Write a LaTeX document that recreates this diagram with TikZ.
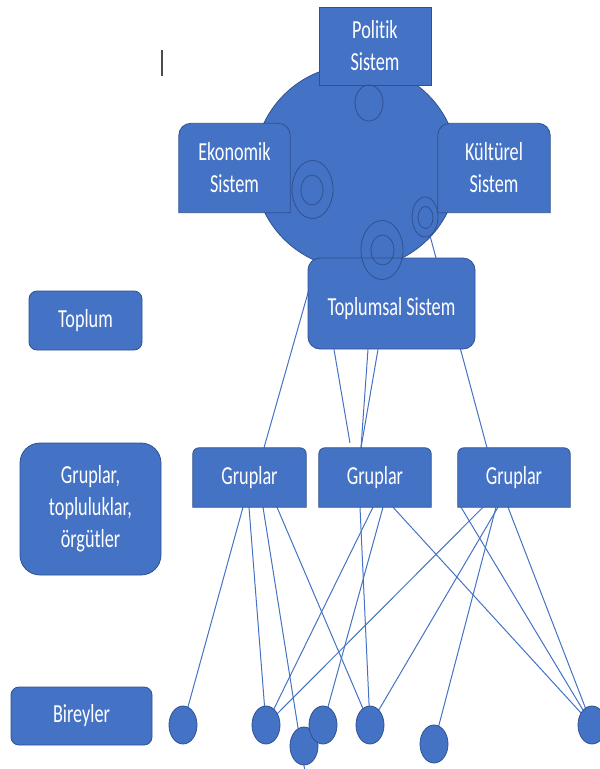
\documentclass[tikz,border=0pt]{standalone}
\usepackage{fontspec}
\newfontfamily\boxfont{Carlito}[FakeStretch=0.70,Ligatures=NoCommon]
\usetikzlibrary{shapes.geometric,calc}
\pgfdeclarelayer{edges}
\pgfdeclarelayer{frames}
\pgfsetlayers{edges,frames,main}
\definecolor{boxblue}{HTML}{4472C4}
\definecolor{rimblue}{HTML}{2F528F}

% frame with rounded top corners and square bottom corners behind a node
\newcommand\topframe[2]{%
  \begin{pgfonlayer}{frames}
    \draw[frame] (#1.south west) -- ([yshift=-#2]#1.north west)
      arc[start angle=180,end angle=90,radius=#2]
      -- ([xshift=-#2]#1.north east)
      arc[start angle=90,end angle=0,radius=#2]
      -- (#1.south east) -- cycle;
  \end{pgfonlayer}}

\tikzset{
  frame/.style={fill=boxblue,draw=rimblue,line width=0.8pt},
  label/.style={text=white,align=center,inner sep=0pt,
    font=\boxfont\fontsize{26}{32}\selectfont},
  solidbox/.style={label,frame},
  roundbox/.style={solidbox,rounded corners=#1},
  plainbox/.style={label},
  ring/.style={ellipse,draw=rimblue,line width=0.8pt,inner sep=0pt},
  person/.style={ellipse,fill=boxblue,draw=rimblue,line width=0.8pt,
    inner sep=0pt,minimum width=28pt,minimum height=38pt},
  link/.style={draw=boxblue,line width=1pt},
  cursorline/.style={draw=black!70,line width=1.3pt}
}

\begin{document}
\begin{tikzpicture}[x=1pt,y=-1pt]
\useasboundingbox (0,0) rectangle (600,769);
\clip (0,0) rectangle (600,769);

% editing cursor
\coordinate (cur1) at (162,50);
\coordinate (cur2) at (162,76);
\draw[cursorline] (cur1) -- (cur2);

% the system disc
\begin{pgfonlayer}{frames}
  \node[circle,frame,minimum size=204pt,inner sep=0pt] (disc) at (356,167) {};
\end{pgfonlayer}

% subsystems
\node[solidbox,minimum width=112pt,minimum height=78pt] (pol) at (375,46) {Politik\\Sistem};
\node[plainbox,minimum width=111pt,minimum height=89pt] (eko) at (234.5,168) {Ekonomik\\Sistem};
\topframe{eko}{12pt}
\node[plainbox,minimum width=112pt,minimum height=89pt] (kul) at (494,168) {Kültürel\\Sistem};
\topframe{kul}{12pt}

% society
\node[roundbox=12pt,minimum width=167pt,minimum height=91pt] (ts) at (391.5,303.5) {\raisebox{-5pt}[\height][\depth]{Toplumsal Sistem}};

% rings on the disc
\node[ring,minimum width=28pt,minimum height=36pt] (polring) at (369,103) {};
\node[ring,minimum width=41pt,minimum height=58pt] (ekoring) at (312.5,189.5) {};
\node[ring,minimum width=22pt,minimum height=30pt] (ekoin) at (312,190) {};
\node[ring,minimum width=26pt,minimum height=40pt] (kulring) at (425,217) {};
\node[ring,minimum width=15pt,minimum height=22pt] (kulin) at (425.5,217.5) {};
\node[ring,minimum width=42pt,minimum height=59pt] (midring) at (382,250) {};
\node[ring,minimum width=23pt,minimum height=30pt] (midin) at (382.5,250) {};

% level labels
\node[roundbox=8pt,minimum width=113pt,minimum height=59pt] (toplum) at (85.5,320.5) {Toplum};
\node[roundbox=20pt,minimum width=141pt,minimum height=132pt] (grp) at (90.5,509) {Gruplar,\\topluluklar,\\örgütler};
\node[roundbox=8pt,minimum width=141pt,minimum height=58pt] (bir) at (81.5,716) {Bireyler};

% groups
\node[plainbox,minimum width=113pt,minimum height=59pt] (g1) at (249.5,477.5) {Gruplar};
\topframe{g1}{6pt}
\node[plainbox,minimum width=112pt,minimum height=59pt] (g2) at (375,477.5) {Gruplar};
\topframe{g2}{6pt}
\node[plainbox,minimum width=112pt,minimum height=59pt] (g3) at (514,477.5) {Gruplar};
\topframe{g3}{6pt}

% individuals
\node[person] (c1) at (183,725) {};
\node[person] (c2) at (266,725) {};
\node[person] (c3) at (304,746) {};
\node[person] (c4) at (323,725) {};
\node[person] (c5) at (370,725) {};
\node[person] (c6) at (434,744) {};
\node[person] (c7) at (592,725) {};

\coordinate (l2end) at (350,443);
\coordinate (tail) at (305.5,775);

% links
\begin{pgfonlayer}{edges}
  % society to groups
  \draw[link] ([xshift=-73.5pt]ts.north) -- ([xshift=14.5pt]g1.north);
  \draw[link] ([xshift=-57.5pt]ts.south) -- (l2end);
  \draw[link] ([xshift=-23.5pt]ts.south) -- ([xshift=-14pt]g2.north);
  \draw[link] ([xshift=-13.5pt]ts.south) -- ([xshift=-14pt]g2.north);
  \draw[link] (kulring.center) -- ([xshift=-27pt]g3.north);
  % groups to individuals
  \draw[link] ([xshift=-6.5pt]g1.south) -- (c1.center);
  \draw[link] ([xshift=-0.5pt]g1.south) -- (c2.center);
  \draw[link] ([xshift=13.5pt]g1.south) -- (tail);
  \draw[link] ([xshift=27.5pt]g1.south) -- (c5.center);
  \draw[link] ([xshift=-15pt]g2.south) -- (c5.center);
  \draw[link] ([xshift=-2pt]g2.south) -- (c2.center);
  \draw[link] ([xshift=8pt]g2.south) -- (c4.center);
  \draw[link] ([xshift=18pt]g2.south) -- (c7.center);
  \draw[link] ([xshift=-53pt]g3.south) -- (c7.center);
  \draw[link] ([xshift=-31pt]g3.south) -- (c2.center);
  \draw[link] ([xshift=-16pt]g3.south) -- (c5.center);
  \draw[link] ([xshift=-18pt]g3.south) -- (c6.center);
  \draw[link] ([xshift=-6pt]g3.south) -- (c7.center);
\end{pgfonlayer}
\end{tikzpicture}
\end{document}
